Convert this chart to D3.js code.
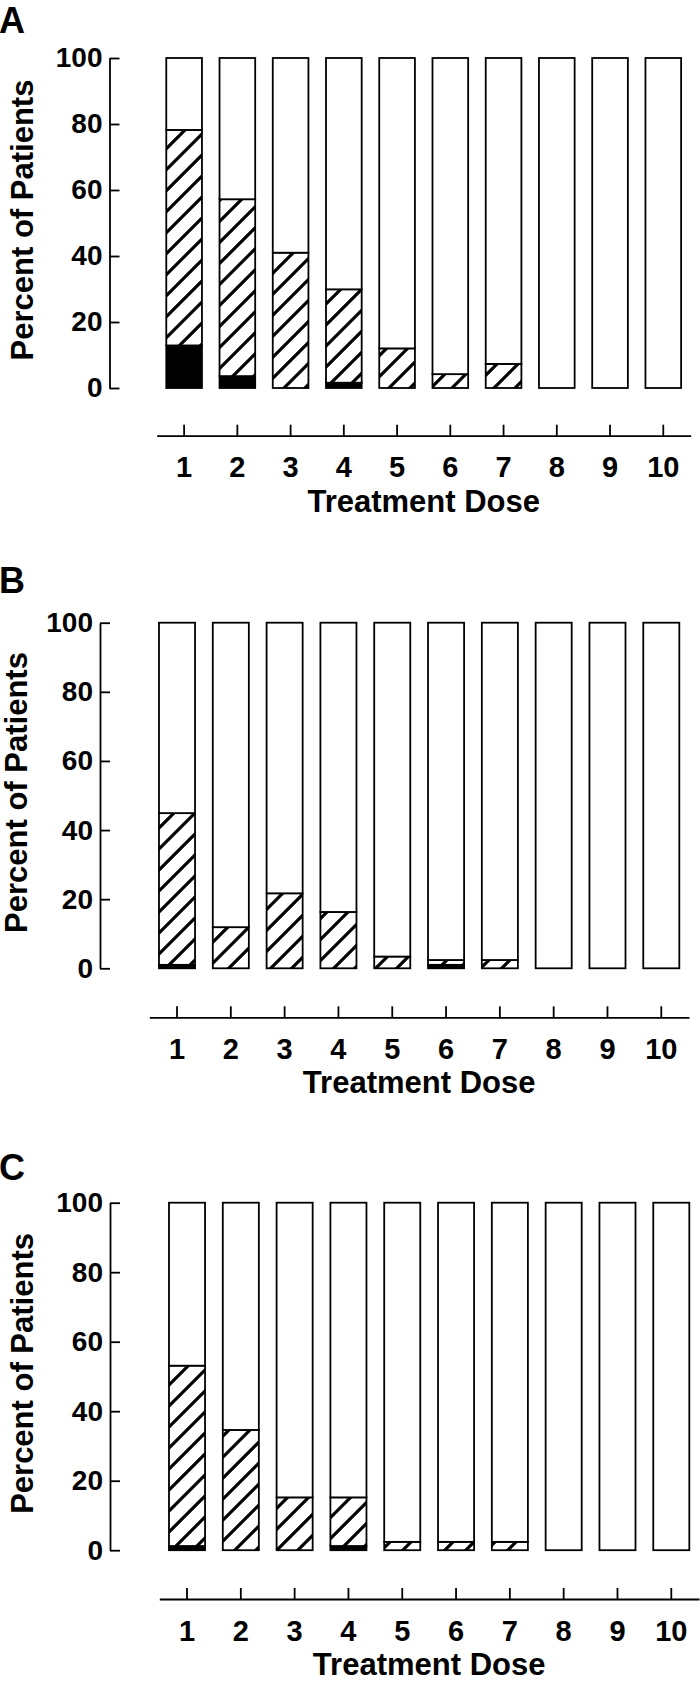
<!DOCTYPE html>
<html lang="en">
<head>
<meta charset="UTF-8">
<title>Percent of Patients by Treatment Dose</title>
<script src="https://d3js.org/d3.v7.min.js"></script>
<style>
  body { margin: 0; background: #fff; }
  svg { display: block; }
</style>
</head>
<body>
<svg width="700" height="1681"></svg>
<script>
var doses = ["1", "2", "3", "4", "5", "6", "7", "8", "9", "10"];
var yTicks = [0, 20, 40, 60, 80, 100];

// solid black part at the bottom of each bar
var severeA = [12.9, 3.6, 0, 1.6, 0, 0, 0, 0, 0, 0];
// hatched part, stacked on the black part
var moderateA = [65.3, 53.6, 41.0, 28.3, 12.0, 4.2, 7.3, 0, 0, 0];

var severeB = [1.0, 0, 0, 0, 0, 1.0, 0, 0, 0, 0];
var moderateB = [43.9, 11.9, 21.7, 16.3, 3.4, 1.4, 2.4, 0, 0, 0];

var severeC = [1.2, 0, 0, 1.2, 0, 0, 0, 0, 0, 0];
var moderateC = [51.9, 34.6, 15.2, 14.0, 2.4, 2.4, 2.4, 0, 0, 0];

var font = "'Liberation Sans', Arial, Helvetica, sans-serif";

// where each panel sits on the page
var panels = [
  {label: "A", severe: severeA, moderate: moderateA, labelY: 33, titleX: 33,
   yAxisX: 109.5, yTop: 58, yBot: 388, xL: 156.7, xR: 690.7, xAxisY: 435.7},
  {label: "B", severe: severeB, moderate: moderateB, labelY: 593, titleX: 27,
   yAxisX: 100, yTop: 622.7, yBot: 968.3, xL: 149.3, xR: 689, xAxisY: 1017.3},
  {label: "C", severe: severeC, moderate: moderateC, labelY: 1180, titleX: 33,
   yAxisX: 110, yTop: 1202.7, yBot: 1550.2, xL: 159.3, xR: 699, xAxisY: 1599}
];

var svg = d3.select("svg");

// diagonal hatch
var pat = svg.append("defs").append("pattern")
  .attr("id", "hatch")
  .attr("patternUnits", "userSpaceOnUse")
  .attr("width", 21)
  .attr("height", 21);
pat.append("rect").attr("width", 21).attr("height", 21).attr("fill", "#fff");
pat.append("path")
  .attr("d", "M-4,4 L4,-4 M0,21 L21,0 M17,25 L25,17")
  .attr("stroke", "#000")
  .attr("stroke-width", 3.2);

var fills = {severe: "#000", moderate: "url(#hatch)", none: "#fff"};
var stack = d3.stack().keys(["severe", "moderate", "none"]);

panels.forEach(function(p) {
  var rows = doses.map(function(d, i) {
    return {dose: d, severe: p.severe[i], moderate: p.moderate[i],
            none: 100 - p.severe[i] - p.moderate[i]};
  });

  var x = d3.scaleBand().domain(doses).range([p.xL, p.xR])
    .paddingInner(0.33).paddingOuter(0.18);
  var y = d3.scaleLinear().domain([0, 100]).range([p.yBot, p.yTop]);

  var g = svg.append("g");

  // bars
  g.selectAll("g.layer")
    .data(stack(rows))
    .join("g")
    .attr("class", "layer")
    .attr("fill", function(d) { return fills[d.key]; })
    .selectAll("rect")
    .data(function(d) { return d; })
    .join("rect")
    .attr("x", function(d) { return x(d.data.dose); })
    .attr("width", x.bandwidth())
    .attr("y", function(d) { return y(d[1]); })
    .attr("height", function(d) { return y(d[0]) - y(d[1]); })
    .attr("stroke", "#000")
    .attr("stroke-width", 1.8);

  // y axis, ticks pointing inward
  var ya = g.append("g")
    .attr("transform", "translate(" + p.yAxisX + ",0)")
    .call(d3.axisLeft(y).tickValues(yTicks).tickSize(-10).tickSizeOuter(0).tickPadding(7));
  ya.selectAll("path, line").attr("stroke", "#000").attr("stroke-width", 1.8);
  ya.selectAll("text")
    .attr("fill", "#000")
    .attr("font-family", font)
    .attr("font-weight", "bold")
    .attr("font-size", 28);

  // x axis, detached below the bars
  var xa = g.append("g")
    .attr("transform", "translate(0," + p.xAxisY + ")")
    .call(d3.axisBottom(x).tickSize(-11).tickSizeOuter(0).tickPadding(21));
  xa.selectAll("path, line").attr("stroke", "#000").attr("stroke-width", 1.8);
  xa.selectAll("text")
    .attr("fill", "#000")
    .attr("font-family", font)
    .attr("font-weight", "bold")
    .attr("font-size", 29);

  // titles
  g.append("text")
    .attr("x", (p.xL + p.xR) / 2)
    .attr("y", p.xAxisY + 76)
    .attr("text-anchor", "middle")
    .attr("font-family", font)
    .attr("font-weight", "bold")
    .attr("font-size", 31)
    .text("Treatment Dose");

  g.append("text")
    .attr("transform", "translate(" + p.titleX + "," + ((p.yTop + p.yBot) / 2 - 3) + ") rotate(-90)")
    .attr("text-anchor", "middle")
    .attr("font-family", font)
    .attr("font-weight", "bold")
    .attr("font-size", 31)
    .text("Percent of Patients");

  g.append("text")
    .attr("x", -1)
    .attr("y", p.labelY)
    .attr("font-family", font)
    .attr("font-weight", "bold")
    .attr("font-size", 36)
    .text(p.label);
});
</script>
</body>
</html>
